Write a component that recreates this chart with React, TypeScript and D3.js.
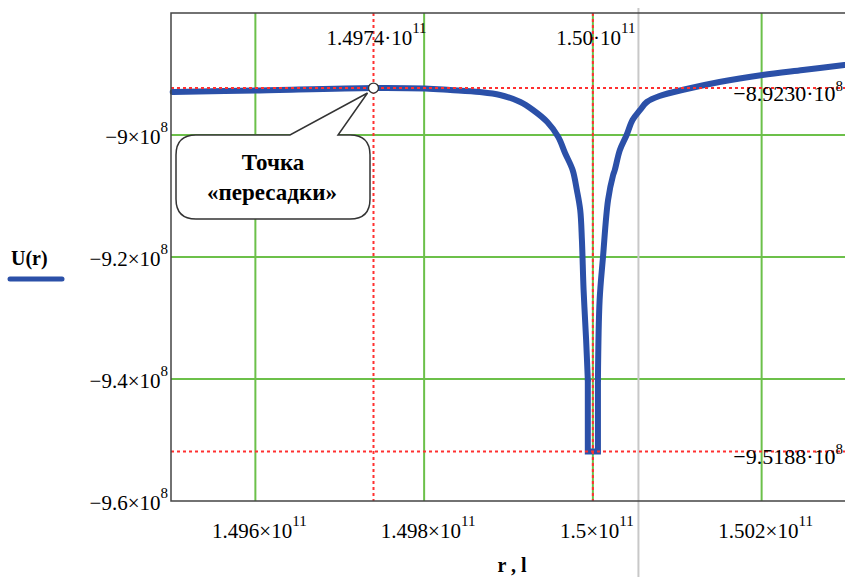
import React, { useEffect, useRef } from "react";
import * as d3 from "d3";

// r in units of 1e11 m, U in units of 1e8
const rValues = [
  1.49502, 1.49601, 1.4974, 1.49801, 1.49831, 1.49866, 1.4989, 1.49914, 1.49929,
  1.49946, 1.49959, 1.49967, 1.49976, 1.49981, 1.49985, 1.49987, 1.49989, 1.49992,
  1.49994, 1.49994, 1.50006, 1.50006, 1.50008, 1.50012, 1.50018, 1.50024, 1.50026,
  1.50032, 1.5004, 1.50047, 1.50056, 1.50064, 1.50079, 1.50111, 1.5015, 1.50201,
  1.50249, 1.50298,
];
const uValues = [
  -8.9295, -8.927, -8.923, -8.9238, -8.9262, -8.9295, -8.9344, -8.9459, -8.959,
  -8.9787, -9.0033, -9.0295, -9.0574, -9.0902, -9.123, -9.1721, -9.2541, -9.3361,
  -9.4016, -9.5188, -9.5188, -9.4016, -9.2705, -9.2, -9.1066, -9.0656, -9.0574,
  -9.0246, -9.0, -8.9754, -8.959, -8.9459, -8.9361, -8.9246, -8.9131, -8.9016,
  -8.8934, -8.8852,
];

const xTicks = [1.496, 1.498, 1.5, 1.502];
const xTickLabels = ["1.496×10", "1.498×10", "1.5×10", "1.502×10"];
const xTickExp = "11";
const yTicks = [-9, -9.2, -9.4, -9.6];
const yTickLabels = ["−9×10", "−9.2×10", "−9.4×10", "−9.6×10"];
const yTickExp = "8";

const markR = [1.4974, 1.5];
const markRLabels = ["1.4974·10", "1.50·10"];
const markU = [-8.923, -9.5188];
const markULabels = ["−8.9230·10", "−9.5188·10"];
const transfer = { r: 1.4974, u: -8.923 };
const cursorR = 1.50054;

const App = () => {
  const svgRef = useRef<SVGSVGElement>(null);

  useEffect(() => {
    const width = 845;
    const height = 577;
    const left = 171;
    const top = 13;
    const bottom = 501;
    const serif = "'Liberation Serif', 'Times New Roman', serif";
    const green = "#6cc04a";
    const red = "#ff3030";
    const blue = "#2b50a8";

    const svg = d3.select(svgRef.current).attr("width", width).attr("height", height);
    svg.selectAll("*").remove();

    const x = d3.scaleLinear().domain([1.495, 1.503]).range([left, 846]);
    const y = d3.scaleLinear().domain([-9.6, -8.8]).range([bottom, top]);

    svg.append("rect").attr("width", width).attr("height", height).attr("fill", "#fff");

    // green grid
    const grid = svg.append("g").attr("stroke", green).attr("stroke-width", 2);
    grid.selectAll("line.v").data(xTicks).join("line")
      .attr("x1", (d) => x(d)).attr("x2", (d) => x(d)).attr("y1", top).attr("y2", bottom);
    grid.selectAll("line.h").data(yTicks.filter((d) => d > -9.6)).join("line")
      .attr("x1", left).attr("x2", width).attr("y1", (d) => y(d)).attr("y2", (d) => y(d));

    // grey cursor line
    svg.append("line")
      .attr("x1", x(cursorR)).attr("x2", x(cursorR)).attr("y1", 8).attr("y2", height)
      .attr("stroke", "#c8c8c8").attr("stroke-width", 2);

    // curve: smooth flanks, square bottom of the well
    const pts = rValues.map((r, i) => [r, uValues[i]] as [number, number]);
    const bottomIdx = uValues.indexOf(d3.min(uValues) as number);
    const smooth = d3.line<[number, number]>()
      .x((d) => x(d[0])).y((d) => y(d[1]))
      .curve(d3.curveCatmullRom.alpha(0.5));
    const straight = d3.line<[number, number]>().x((d) => x(d[0])).y((d) => y(d[1]));
    const curve = svg.append("g").attr("fill", "none").attr("stroke", blue)
      .attr("stroke-width", 6);
    curve.append("path").attr("d", smooth(pts.slice(0, bottomIdx)))
      .attr("stroke-linejoin", "round").attr("stroke-linecap", "round");
    curve.append("path").attr("d", straight(pts.slice(bottomIdx - 1, bottomIdx + 3)))
      .attr("stroke-linejoin", "miter");
    curve.append("path").attr("d", smooth(pts.slice(bottomIdx + 2)))
      .attr("stroke-linejoin", "round").attr("stroke-linecap", "round");

    // red dotted markers
    const marks = svg.append("g").attr("stroke", red).attr("stroke-width", 2)
      .attr("stroke-dasharray", "3,3");
    marks.selectAll("line.v").data(markR).join("line")
      .attr("x1", (d) => x(d)).attr("x2", (d) => x(d)).attr("y1", top).attr("y2", bottom);
    marks.selectAll("line.h").data(markU).join("line")
      .attr("x1", left).attr("x2", width).attr("y1", (d) => y(d)).attr("y2", (d) => y(d));

    // frame
    svg.append("path")
      .attr("d", `M${width},${top}H${left}V${bottom}H${width}`)
      .attr("fill", "none").attr("stroke", "#444").attr("stroke-width", 1.5);

    // callout
    const tipX = x(transfer.r) - 6;
    const tipY = y(transfer.u) + 5;
    const bx0 = 176, bx1 = 370, by0 = 135, by1 = 219, rr = 20;
    svg.append("path")
      .attr("d",
        `M${bx0 + rr},${by0}L290,${by0}L${tipX},${tipY}L338,${by0}L${bx1 - rr},${by0}` +
        `Q${bx1},${by0} ${bx1},${by0 + rr}L${bx1},${by1 - rr}Q${bx1},${by1} ${bx1 - rr},${by1}` +
        `L${bx0 + rr},${by1}Q${bx0},${by1} ${bx0},${by1 - rr}L${bx0},${by0 + rr}` +
        `Q${bx0},${by0} ${bx0 + rr},${by0}Z`)
      .attr("fill", "#fff").attr("stroke", "#333").attr("stroke-width", 1.5);
    svg.append("text").attr("x", 273).attr("y", 170).attr("text-anchor", "middle")
      .attr("font-family", serif).attr("font-weight", "bold").attr("font-size", 23)
      .text("Точка");
    svg.append("text").attr("x", 272).attr("y", 200).attr("text-anchor", "middle")
      .attr("font-family", serif).attr("font-weight", "bold").attr("font-size", 23)
      .text("«пересадки»");

    svg.append("circle").attr("cx", x(transfer.r)).attr("cy", y(transfer.u)).attr("r", 5)
      .attr("fill", "#fff").attr("stroke", "#333").attr("stroke-width", 1.3);

    const withExp = (sel: any, main: string, exp: string, dy: number) => {
      sel.append("tspan").text(main);
      sel.append("tspan").attr("font-size", 15).attr("dy", dy).text(exp);
    };

    // y tick labels
    yTicks.forEach((d, i) => {
      const t = svg.append("text").attr("x", 168).attr("y", y(d) + 9)
        .attr("text-anchor", "end").attr("font-family", serif).attr("font-size", 21);
      withExp(t, yTickLabels[i], yTickExp, -12);
    });

    // x tick labels
    xTicks.forEach((d, i) => {
      const t = svg.append("text").attr("x", x(d) + 4).attr("y", 538)
        .attr("text-anchor", "middle").attr("font-family", serif).attr("font-size", 21);
      withExp(t, xTickLabels[i], xTickExp, -12);
    });

    // marker labels at top
    markR.forEach((d, i) => {
      const t = svg.append("text").attr("x", x(d) + 3).attr("y", 45)
        .attr("text-anchor", "middle").attr("font-family", serif).attr("font-size", 21);
      withExp(t, markRLabels[i], xTickExp, -12);
    });

    // marker labels at right
    markU.forEach((d, i) => {
      const t = svg.append("text").attr("x", 843).attr("y", y(d) + 13)
        .attr("text-anchor", "end").attr("font-family", serif).attr("font-size", 22);
      withExp(t, markULabels[i], yTickExp, -10);
    });

    // axis title and legend
    svg.append("text").attr("x", 512).attr("y", 572).attr("text-anchor", "middle")
      .attr("font-family", serif).attr("font-weight", "bold").attr("font-size", 20)
      .text("r , l");
    svg.append("text").attr("x", 11).attr("y", 265)
      .attr("font-family", serif).attr("font-weight", "bold").attr("font-size", 20)
      .text("U(r)");
    svg.append("line").attr("x1", 10).attr("x2", 62).attr("y1", 279).attr("y2", 279)
      .attr("stroke", blue).attr("stroke-width", 5).attr("stroke-linecap", "round");
  }, []);

  return (
    <div>
      <svg ref={svgRef} style={{ position: "absolute", left: 0, top: 0 }} />
    </div>
  );
};

export default App;
